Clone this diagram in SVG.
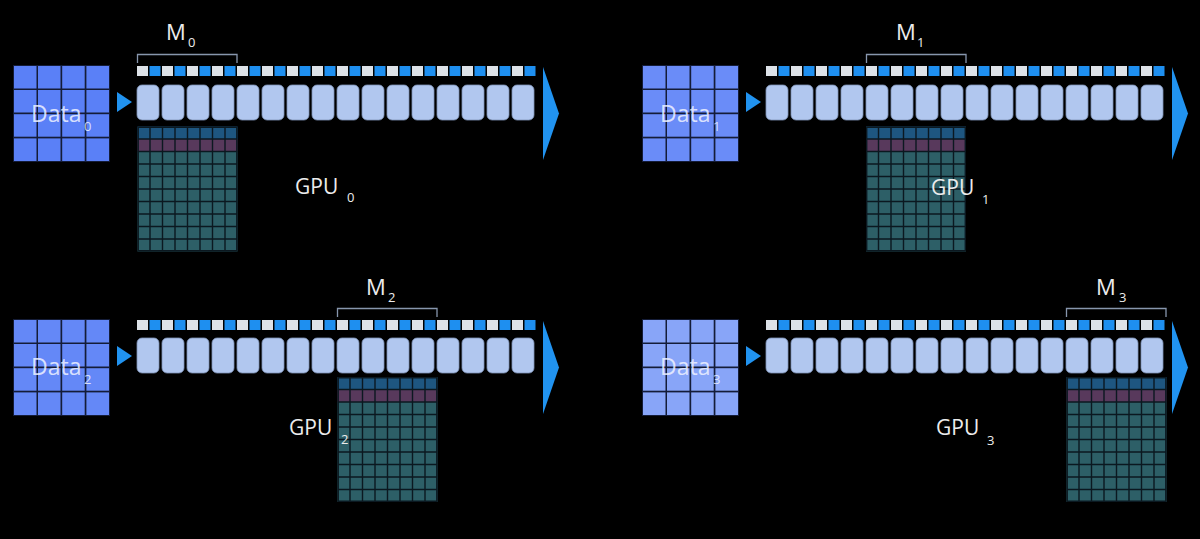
<svg xmlns="http://www.w3.org/2000/svg" xmlns:xlink="http://www.w3.org/1999/xlink" width="1200" height="539" viewBox="0 0 1200 539">
<style>
.lbl{font-family:"Open Sans","Noto Sans","Liberation Sans",sans-serif;fill:#ececec;}
.big{font-size:22px;}
.gpu{font-size:21px;}
.sub{font-size:13px;}
.dat{font-family:"Open Sans","Noto Sans","Liberation Sans",sans-serif;fill:#eef2ff;fill-opacity:0.85;font-size:23px;}
.dsub{font-family:"Open Sans","Noto Sans","Liberation Sans",sans-serif;fill:#eef2ff;fill-opacity:0.85;font-size:13px;}
.sqL{fill:#dde2e8;}
.sqB{fill:#1e8ff0;}
.blk{fill:#b1c7ef;stroke:#7f93b6;stroke-width:0.8;}
.arr{fill:#2193f0;}
.brk{fill:none;stroke:#8796ad;stroke-width:1.3;}
.gl{fill:none;stroke:#0b1820;stroke-width:1.4;}
</style>
<defs>
<g id="strip">
<rect class="sqL" x="0" y="0" width="11" height="10"/><rect class="sqB" x="12.5" y="0" width="11" height="10"/>
<rect class="sqL" x="25" y="0" width="11" height="10"/><rect class="sqB" x="37.5" y="0" width="11" height="10"/>
<rect class="sqL" x="50" y="0" width="11" height="10"/><rect class="sqB" x="62.5" y="0" width="11" height="10"/>
<rect class="sqL" x="75" y="0" width="11" height="10"/><rect class="sqB" x="87.5" y="0" width="11" height="10"/>
<rect class="sqL" x="100" y="0" width="11" height="10"/><rect class="sqB" x="112.5" y="0" width="11" height="10"/>
<rect class="sqL" x="125" y="0" width="11" height="10"/><rect class="sqB" x="137.5" y="0" width="11" height="10"/>
<rect class="sqL" x="150" y="0" width="11" height="10"/><rect class="sqB" x="162.5" y="0" width="11" height="10"/>
<rect class="sqL" x="175" y="0" width="11" height="10"/><rect class="sqB" x="187.5" y="0" width="11" height="10"/>
<rect class="sqL" x="200" y="0" width="11" height="10"/><rect class="sqB" x="212.5" y="0" width="11" height="10"/>
<rect class="sqL" x="225" y="0" width="11" height="10"/><rect class="sqB" x="237.5" y="0" width="11" height="10"/>
<rect class="sqL" x="250" y="0" width="11" height="10"/><rect class="sqB" x="262.5" y="0" width="11" height="10"/>
<rect class="sqL" x="275" y="0" width="11" height="10"/><rect class="sqB" x="287.5" y="0" width="11" height="10"/>
<rect class="sqL" x="300" y="0" width="11" height="10"/><rect class="sqB" x="312.5" y="0" width="11" height="10"/>
<rect class="sqL" x="325" y="0" width="11" height="10"/><rect class="sqB" x="337.5" y="0" width="11" height="10"/>
<rect class="sqL" x="350" y="0" width="11" height="10"/><rect class="sqB" x="362.5" y="0" width="11" height="10"/>
<rect class="sqL" x="375" y="0" width="11" height="10"/><rect class="sqB" x="387.5" y="0" width="11" height="10"/>
</g>
<g id="blocks">
<rect class="blk" x="0" y="0" width="22" height="35" rx="5"/><rect class="blk" x="25" y="0" width="22" height="35" rx="5"/>
<rect class="blk" x="50" y="0" width="22" height="35" rx="5"/><rect class="blk" x="75" y="0" width="22" height="35" rx="5"/>
<rect class="blk" x="100" y="0" width="22" height="35" rx="5"/><rect class="blk" x="125" y="0" width="22" height="35" rx="5"/>
<rect class="blk" x="150" y="0" width="22" height="35" rx="5"/><rect class="blk" x="175" y="0" width="22" height="35" rx="5"/>
<rect class="blk" x="200" y="0" width="22" height="35" rx="5"/><rect class="blk" x="225" y="0" width="22" height="35" rx="5"/>
<rect class="blk" x="250" y="0" width="22" height="35" rx="5"/><rect class="blk" x="275" y="0" width="22" height="35" rx="5"/>
<rect class="blk" x="300" y="0" width="22" height="35" rx="5"/><rect class="blk" x="325" y="0" width="22" height="35" rx="5"/>
<rect class="blk" x="350" y="0" width="22" height="35" rx="5"/><rect class="blk" x="375" y="0" width="22" height="35" rx="5"/>
</g>
<g id="datagrid">
<rect x="0" y="0" width="97" height="97" fill="#141c38"/>
<rect x="1" y="1" width="22.5" height="22.5"/><rect x="25" y="1" width="22.5" height="22.5"/><rect x="49.2" y="1" width="22.5" height="22.5"/><rect x="73.4" y="1" width="22.6" height="22.5"/>
<rect x="1" y="25" width="22.5" height="22.5"/><rect x="25" y="25" width="22.5" height="22.5"/><rect x="49.2" y="25" width="22.5" height="22.5"/><rect x="73.4" y="25" width="22.6" height="22.5"/>
<rect x="1" y="49.2" width="22.5" height="22.5"/><rect x="25" y="49.2" width="22.5" height="22.5"/><rect x="49.2" y="49.2" width="22.5" height="22.5"/><rect x="73.4" y="49.2" width="22.6" height="22.5"/>
<rect x="1" y="73.4" width="22.5" height="22.6"/><rect x="25" y="73.4" width="22.5" height="22.6"/><rect x="49.2" y="73.4" width="22.5" height="22.6"/><rect x="73.4" y="73.4" width="22.6" height="22.6"/>
</g>
<g id="gpugrid">
<rect x="0" y="0" width="100" height="12.5" fill="#1e5680"/>
<rect x="0" y="12.5" width="100" height="12.5" fill="#58395c"/>
<rect x="0" y="25" width="100" height="100" fill="#2d5f67"/>
<path class="gl" d="M0.7 0V125M12.5 0V125M25 0V125M37.5 0V125M50 0V125M62.5 0V125M75 0V125M87.5 0V125M99.3 0V125M0 0.7H100M0 12.5H100M0 25H100M0 37.5H100M0 50H100M0 62.5H100M0 75H100M0 87.5H100M0 100H100M0 112.5H100M0 124.3H100"/>
</g>
</defs>
<rect x="0" y="0" width="1200" height="539" fill="#000"/>

<g id="connectors">
<polygon class="arr" points="117,92 132,102 117,112"/>
<polygon class="arr" points="746,92 761,102 746,112"/>
<polygon class="arr" points="117,346 132,356 117,366"/>
<polygon class="arr" points="746,346 761,356 746,366"/>
<polygon class="arr" points="543,67 559,113.5 543,160"/>
<polygon class="arr" points="1172,67 1188,113.5 1172,160"/>
<polygon class="arr" points="543,321 559,367.5 543,414"/>
<polygon class="arr" points="1172,321 1188,367.5 1172,414"/>
</g>

<g id="gpu0">
<use xlink:href="#datagrid" href="#datagrid" x="13" y="65" fill="#5a80f7"/>
<text class="dat" x="31" y="122">Data</text><text class="dsub" x="84" y="131">0</text>
<use xlink:href="#strip" href="#strip" x="137" y="66"/>
<use xlink:href="#blocks" href="#blocks" x="137" y="85"/>
<path class="brk" d="M137.5 63V54.5H237V63"/>
<text class="lbl big" x="166" y="40">M</text><text class="lbl sub" x="188" y="47">0</text>
<use xlink:href="#gpugrid" href="#gpugrid" x="137.5" y="126.5"/>
<text class="lbl gpu" x="295" y="194">GPU</text><text class="lbl sub" x="347" y="202">0</text>
</g>

<g id="gpu1">
<use xlink:href="#datagrid" href="#datagrid" x="642" y="65" fill="#6a8cf8"/>
<text class="dat" x="660" y="122">Data</text><text class="dsub" x="713" y="131">1</text>
<use xlink:href="#strip" href="#strip" x="766" y="66"/>
<use xlink:href="#blocks" href="#blocks" x="766" y="85"/>
<path class="brk" d="M866.5 63V54.5H966V63"/>
<text class="lbl big" x="896" y="40">M</text><text class="lbl sub" x="917" y="47">1</text>
<use xlink:href="#gpugrid" href="#gpugrid" x="866" y="126.5"/>
<text class="lbl gpu" x="931" y="195">GPU</text><text class="lbl sub" x="982" y="204">1</text>
</g>

<g id="gpu2">
<use xlink:href="#datagrid" href="#datagrid" x="13" y="319" fill="#6488f7"/>
<text class="dat" x="31" y="375">Data</text><text class="dsub" x="84" y="384">2</text>
<use xlink:href="#strip" href="#strip" x="137" y="320"/>
<use xlink:href="#blocks" href="#blocks" x="137" y="338"/>
<path class="brk" d="M337.5 317V308.5H437V317"/>
<text class="lbl big" x="366" y="295">M</text><text class="lbl sub" x="388" y="302">2</text>
<use xlink:href="#gpugrid" href="#gpugrid" x="337.5" y="377"/>
<text class="lbl gpu" x="289" y="435">GPU</text><text class="lbl sub" x="341" y="444">2</text>
</g>

<g id="gpu3">
<use xlink:href="#datagrid" href="#datagrid" x="642" y="319" fill="#88a5f8"/>
<text class="dat" x="660" y="375">Data</text><text class="dsub" x="713" y="384">3</text>
<use xlink:href="#strip" href="#strip" x="766" y="320"/>
<use xlink:href="#blocks" href="#blocks" x="766" y="338"/>
<path class="brk" d="M1066.5 317V308.5H1166V317"/>
<text class="lbl big" x="1096" y="295">M</text><text class="lbl sub" x="1119" y="302">3</text>
<use xlink:href="#gpugrid" href="#gpugrid" x="1066.5" y="377"/>
<text class="lbl gpu" x="936" y="435">GPU</text><text class="lbl sub" x="987" y="445">3</text>
</g>
</svg>
